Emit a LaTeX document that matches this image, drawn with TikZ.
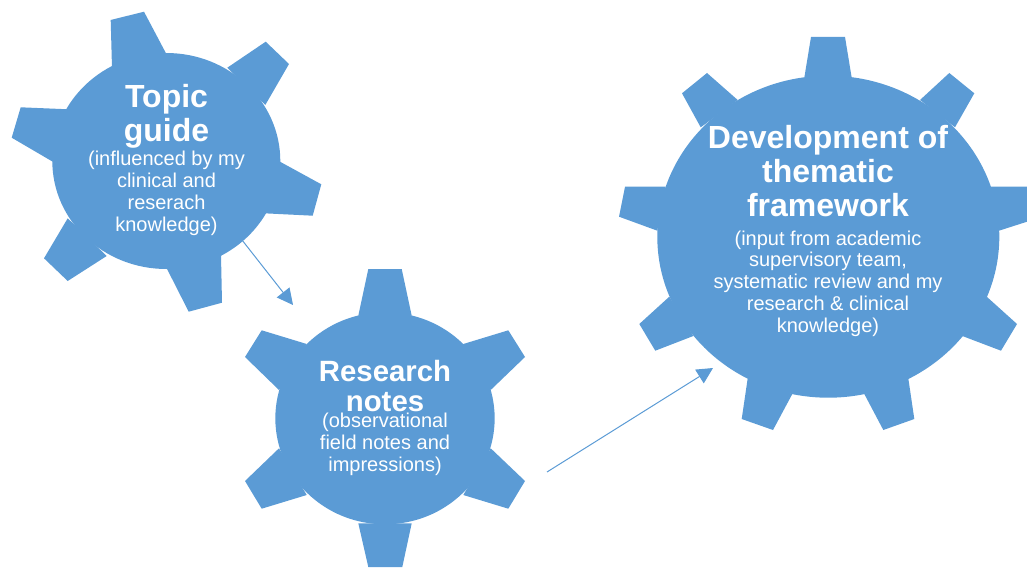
\documentclass[tikz,border=0pt]{standalone}
\usepackage{fontspec}
\setmainfont{Liberation Sans}
\usetikzlibrary{positioning,arrows.meta,shapes.geometric}
\definecolor{gearblue}{HTML}{5B9BD5}
\tikzset{
	%gears
	hub/.style = {ellipse, fill=gearblue, inner sep=0pt},
	tooth/.style = {fill=gearblue},
	%texts
	bigtitle/.style = {text=white, align=center, inner sep=0pt, font=\fontsize{24}{25.5}\selectfont\bfseries},
	midtitle/.style = {text=white, align=center, inner sep=0pt, font=\fontsize{22}{22}\selectfont\bfseries},
	note/.style = {text=white, align=center, inner sep=0pt, font=\fontsize{15}{16.4}\selectfont},
	flow/.style = {-{Triangle[length=12pt,width=12pt]}, draw=gearblue, line width=0.75pt}
}
\begin{document}
\begin{tikzpicture}[x=0.75pt, y=-0.75pt]
	\useasboundingbox (0,0) rectangle (1027,567);
	\clip (0,0) rectangle (1027,567);
	%topic guide gear
	\node[hub, minimum width=171pt, minimum height=162pt] (topic) at (166.3,161) {};
	\fill[tooth] (110.7,20) -- (144,11.7) -- (166,53.3) -- (112,68.3) -- cycle;
	\fill[tooth] (227.3,67.7) -- (265.7,41.7) -- (289,64) -- (265.3,105) -- cycle;
	\fill[tooth] (280,161.7) -- (321.3,184.3) -- (312.7,215.7) -- (264.3,213.3) -- cycle;
	\fill[tooth] (221,255) -- (222,302.7) -- (188.7,311.7) -- (166.7,268.3) -- cycle;
	\fill[tooth] (106.7,256) -- (67.7,281) -- (44,258.3) -- (67.7,218.3) -- cycle;
	\fill[tooth] (52.7,161.7) -- (11.7,137.7) -- (20.7,107.3) -- (68.7,109.3) -- cycle;
	%research notes gear
	\node[hub, minimum width=164.5pt, minimum height=159pt] (notes) at (385,418.3) {};
	\fill[tooth] (368.3,269) -- (401.7,269) -- (411.7,315.7) -- (358.3,315.7) -- cycle;
	\fill[tooth] (457,344) -- (463.3,344) -- (508.3,330.3) -- (525,357) -- (490.7,390) -- cycle;
	\fill[tooth] (490.7,448.3) -- (525,481) -- (508.3,508.7) -- (463.3,495) -- cycle;
	\fill[tooth] (411.7,523.3) -- (402.3,567) -- (368.3,567) -- (358.3,523.3) -- cycle;
	\fill[tooth] (306.7,495) -- (261.7,508.7) -- (245,481) -- (279,448.3) -- cycle;
	\fill[tooth] (279,390) -- (245,357) -- (261.7,330.3) -- (306.7,344) -- cycle;
	%thematic framework gear
	\node[hub, minimum width=256.5pt, minimum height=241.5pt] (theme) at (828.3,236.7) {};
	\fill[tooth] (811,37) -- (845,37) -- (851.7,77.7) -- (804.3,77.7) -- cycle;
	\fill[tooth] (920,100) -- (949.3,73) -- (974.3,93.3) -- (955,127.3) -- cycle;
	\fill[tooth] (990,186.7) -- (1027,186.7) -- (1027,221.7) -- (999,230.7) -- cycle;
	\fill[tooth] (986.7,296.7) -- (1017,324) -- (1001,350.7) -- (962.3,336) -- cycle;
	\fill[tooth] (908.3,378.3) -- (914.3,419) -- (883.3,430) -- (864.3,394) -- cycle;
	\fill[tooth] (792.3,394) -- (773,430) -- (741.7,419) -- (747.7,378.3) -- cycle;
	\fill[tooth] (693.3,336) -- (655.3,350.7) -- (639.3,324) -- (669.3,296.7) -- cycle;
	\fill[tooth] (657.3,230.7) -- (619,216.7) -- (625,186.7) -- (665.7,186.7) -- cycle;
	\fill[tooth] (700.7,127.3) -- (682,93.3) -- (707,73) -- (737.7,100) -- cycle;
	%texts
	\node[bigtitle] (topictitle) at (166.5,116) {Topic\\guide};
	\node[note, below=2pt of topictitle] (topicnote) {(influenced by my\\clinical and\\reserach\\knowledge)};
	\node[midtitle] (notestitle) at (385,386) {Research\\notes};
	\node[note, below=1pt of notestitle] (notesnote) {(observational\\field notes and\\impressions)};
	\node[bigtitle] (themetitle) at (828,171) {Development of\\thematic\\framework};
	\node[note, below=10pt of themetitle] (themenote) {(input from academic\\supervisory team,\\systematic review and my\\research \& clinical\\knowledge)};
	%arrows
	\coordinate (topicout) at (242,240);
	\coordinate (notesin) at (293,305);
	\coordinate (notesout) at (547,472);
	\coordinate (themein) at (713,368);
	\draw[flow] (topicout) -- (notesin);
	\draw[flow] (notesout) -- (themein);
\end{tikzpicture}
\end{document}
